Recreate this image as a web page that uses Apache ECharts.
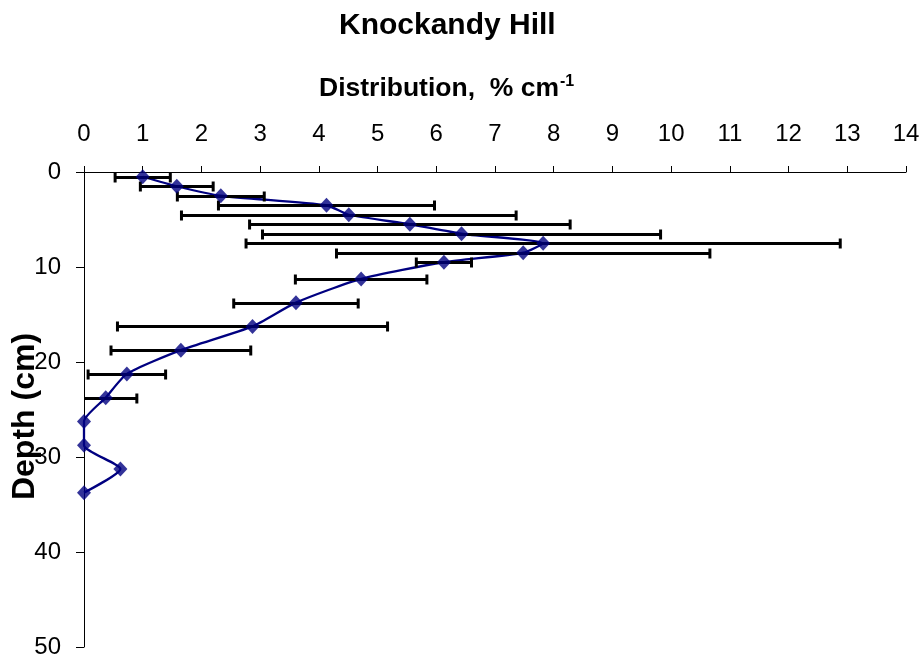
<!DOCTYPE html>
<html>
<head>
<meta charset="utf-8">
<script src="https://cdn.jsdelivr.net/npm/echarts@6/dist/echarts.min.js"></script>
<style>html,body{margin:0;padding:0;background:#fff;}#c{width:920px;height:658px;}</style>
</head>
<body>
<div id="c"></div>
<script>
var chartTitle = 'Knockandy Hill';
var xTitle = 'Distribution,  % cm';
var xTitleSup = '-1';
var yTitle = 'Depth (cm)';
var depth = [0.5, 1.5, 2.5, 3.5, 4.5, 5.5, 6.5, 7.5, 8.5, 9.5, 11.25, 13.75, 16.25, 18.75, 21.25, 23.75, 26.25, 28.75, 31.25, 33.75];
var distribution = [1.0, 1.58, 2.33, 4.13, 4.51, 5.55, 6.43, 7.82, 7.48, 6.13, 4.72, 3.61, 2.87, 1.65, 0.73, 0.37, 0.0, 0.0, 0.62, 0.0];
var errorPlusMinus = [0.47, 0.62, 0.74, 1.84, 2.85, 2.73, 3.39, 5.06, 3.18, 0.47, 1.12, 1.06, 2.30, 1.19, 0.66, 0.53, null, null, null, null];

var lineData = depth.map(function (d, i) { return [distribution[i], d]; });
var errData = [];
depth.forEach(function (d, i) {
  if (errorPlusMinus[i] != null) errData.push([distribution[i] - errorPlusMinus[i], distribution[i] + errorPlusMinus[i], d]);
});

var chart = echarts.init(document.getElementById('c'));
var font = 'Liberation Sans, Arial, sans-serif';
chart.setOption({
  animation: false,
  backgroundColor: '#fff',
  title: [
    { text: chartTitle, left: 334, top: 6, textStyle: { fontFamily: font, fontWeight: 'bold', fontSize: 30, color: '#000' } },
    { text: '{b|' + xTitle + '}{s|' + xTitleSup + '}', left: 314, top: 69,
      textStyle: { rich: {
        b: { fontFamily: font, fontWeight: 'bold', fontSize: 26.5, color: '#000' },
        s: { fontFamily: font, fontWeight: 'bold', fontSize: 16, color: '#000', padding: [0, 0, 13, 1] }
      } } }
  ],
  grid: { left: 84, top: 172, right: 14, bottom: 11, containLabel: false, outerBoundsMode: 'none' },
  xAxis: {
    type: 'value', position: 'top', min: 0, max: 14, interval: 1,
    axisLine: { show: true, lineStyle: { color: '#000', width: 1 } },
    axisTick: { show: true, inside: false, length: 6, lineStyle: { color: '#000' } },
    axisLabel: { fontFamily: font, fontSize: 24, color: '#000', margin: 26 },
    splitLine: { show: false }
  },
  yAxis: {
    type: 'value', inverse: true, min: 0, max: 50, interval: 10,
    name: yTitle, nameLocation: 'middle', nameRotate: 90, nameGap: 43, nameMoveOverlap: false,
    nameTextStyle: { fontFamily: font, fontWeight: 'bold', fontSize: 32, color: '#000', padding: [0, 14, 0, 0] },
    axisLine: { show: true, onZero: false, lineStyle: { color: '#000', width: 1 } },
    axisTick: { show: true, length: 8, lineStyle: { color: '#000' } },
    axisLabel: { fontFamily: font, fontSize: 24, color: '#000', margin: 23 },
    splitLine: { show: false }
  },
  series: [
    {
      type: 'line', data: lineData, smooth: 0.2, showSymbol: false, symbol: 'none',
      lineStyle: { color: '#000080', width: 2.3 }, z: 2, clip: false
    },
    {
      type: 'custom', data: errData, z: 3, clip: true,
      renderItem: function (params, api) {
        var y = Math.round(api.coord([0, api.value(2)])[1]) + 0.5;
        var p1 = api.coord([api.value(0), api.value(2)]);
        var p2 = api.coord([api.value(1), api.value(2)]);
        var h = 5;
        var st = { stroke: '#000', lineWidth: 3 };
        return { type: 'group', children: [
          { type: 'line', shape: { x1: p1[0], y1: y, x2: p2[0], y2: y }, style: st },
          { type: 'line', shape: { x1: p1[0], y1: y - h, x2: p1[0], y2: y + h }, style: st },
          { type: 'line', shape: { x1: p2[0], y1: y - h, x2: p2[0], y2: y + h }, style: st }
        ] };
      }
    },
    {
      type: 'scatter', data: lineData, symbol: 'diamond', symbolSize: [14, 15],
      itemStyle: { color: '#000080' }, z: 4, clip: false
    }
  ]
});
</script>
</body>
</html>
